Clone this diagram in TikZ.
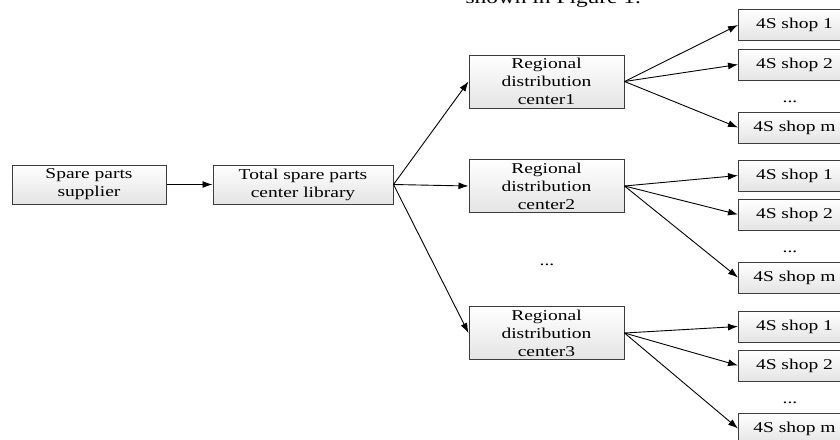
\documentclass[tikz,border=0pt]{standalone}
\usepackage{fontspec}
\setmainfont[FakeStretch=1.3]{Liberation Serif}
\usepackage{tikz}
\usetikzlibrary{arrows.meta,positioning}
\definecolor{Ink}{HTML}{000000}
\definecolor{Edge}{HTML}{3C3C3C}
\definecolor{BoxTop}{HTML}{FFFFFF}
\definecolor{BoxBot}{HTML}{E4E4E4}
\tikzset{
  flow/.style={draw=Edge,line width=1pt,top color=BoxTop,bottom color=BoxBot,align=center,text=Ink,inner sep=0pt,font=\fontsize{15}{18}\selectfont},
  srcbox/.style={flow,minimum width=154pt,minimum height=39pt},
  libbox/.style={flow,minimum width=180pt,minimum height=39pt},
  rcbox/.style={flow,minimum width=155pt,minimum height=53pt},
  shopbox/.style={flow,minimum width=112pt,minimum height=31pt},
  gap/.style={anchor=base,text=Ink,font=\fontsize{15}{18}\selectfont},
  arrow/.style={-{Latex[length=10pt,width=7pt]},line width=0.9pt,draw=Ink}
}
\begin{document}
\begin{tikzpicture}[x=1pt,y=-1pt]
\useasboundingbox (0,0) rectangle (840,439);
\node[anchor=base west,font=\fontsize{18}{21}\selectfont] (cap) at (462,3) {shown in Figure 1.};
\node[srcbox] (sup) at (89,184.5) {Spare parts\\supplier};
\node[libbox] (lib) at (303,184.5) {Total spare parts\\center library};
\node[rcbox] (rc1) at (546.5,81.5) {Regional\\distribution\\center1};
\node[rcbox] (rc2) at (546.5,186) {Regional\\distribution\\center2};
\node[rcbox] (rc3) at (546.5,333) {Regional\\distribution\\center3};
\node[gap] (rdots) at (547,265) {...};
% shops of center1
\node[shopbox,anchor=west] (s11) at (738,25) {4S shop 1};
\node[shopbox,anchor=west] (s12) at (738,64.5) {4S shop 2};
\node[gap] (d1) at (790,102) {...};
\node[shopbox,anchor=west] (s1m) at (738,127.5) {4S shop m};
% shops of center2
\node[shopbox,anchor=west] (s21) at (738,175.5) {4S shop 1};
\node[shopbox,anchor=west] (s22) at (738,214.5) {4S shop 2};
\node[gap] (d2) at (790,252) {...};
\node[shopbox,anchor=west] (s2m) at (738,277.5) {4S shop m};
% shops of center3
\node[shopbox,anchor=west] (s31) at (738,326.5) {4S shop 1};
\node[shopbox,anchor=west] (s32) at (738,365.5) {4S shop 2};
\node[gap] (d3) at (790,403) {...};
\node[shopbox,anchor=west] (s3m) at (738,428.5) {4S shop m};
\draw[arrow] (sup)--(lib);
\draw[arrow] (lib.east)--(rc1.west);\draw[arrow] (lib.east)--(rc2.west);\draw[arrow] (lib.east)--(rc3.west);
\draw[arrow] (rc1.east)--(s11.west);\draw[arrow] (rc1.east)--(s12.west);\draw[arrow] (rc1.east)--(s1m.west);
\draw[arrow] (rc2.east)--(s21.west);\draw[arrow] (rc2.east)--(s22.west);\draw[arrow] (rc2.east)--(s2m.west);
\draw[arrow] (rc3.east)--(s31.west);\draw[arrow] (rc3.east)--(s32.west);\draw[arrow] (rc3.east)--(s3m.west);
\end{tikzpicture}
\end{document}
